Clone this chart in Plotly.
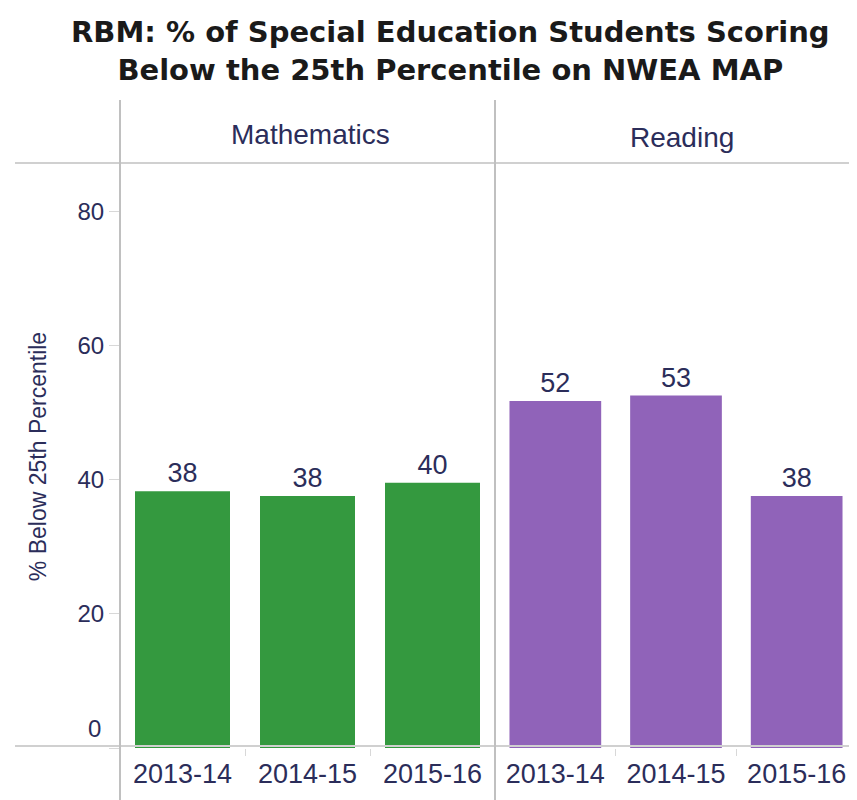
import plotly.graph_objects as go

years = ["2013-14", "2014-15", "2015-16"]
math_values = [38.3, 37.6, 39.6]
reading_values = [51.8, 52.6, 37.6]
panel_names = ["Mathematics", "Reading"]
y_ticks = [0, 20, 40, 60, 80]
title_text = "RBM: % of Special Education Students Scoring<br>Below the 25th Percentile on NWEA MAP"
y_title = "% Below 25th Percentile"

GREEN = "#34993f"
PURPLE = "#9063b9"
NAVY = "#2b2d5a"
GRID = "#d0d0d0"
FONT = "Liberation Sans, Arial, sans-serif"

# page body has an 8px margin, so the figure is drawn 8px right/down
OFF = 8
W, H = 857 - OFF, 800 - OFF
L, R, T, B = 120 - OFF, 0, 165 - OFF, 52
plot_w = W - L - R
plot_h = H - T - B


def px_x(x_ref):
    return (x_ref - OFF - L) / plot_w


def px_y(y_ref):
    return (H - B - (y_ref - OFF)) / plot_h


split = px_x(495)

fig = go.Figure()
fig.add_trace(go.Bar(
    x=years, y=math_values, xaxis="x", yaxis="y",
    marker=dict(color=GREEN, line=dict(width=0)),
    text=[f"{round(v)}" for v in math_values], textposition="outside",
    textfont=dict(size=27, color=NAVY, family=FONT), cliponaxis=False,
))
fig.add_trace(go.Bar(
    x=years, y=reading_values, xaxis="x2", yaxis="y",
    marker=dict(color=PURPLE, line=dict(width=0)),
    text=[f"{round(v)}" for v in reading_values], textposition="outside",
    textfont=dict(size=27, color=NAVY, family=FONT), cliponaxis=False,
))

xaxis_common = dict(
    type="category", range=[-0.5, 2.5], showgrid=False, zeroline=False,
    showline=False, ticks="outside", tickson="boundaries", ticklen=7,
    tickcolor="#d8d8d8", tickwidth=1, ticklabelstandoff=7,
    tickfont=dict(size=27, color=NAVY, family=FONT),
    anchor="y",
)

shapes = [
    dict(type="line", xref="paper", yref="paper",
         x0=px_x(15), x1=1.02, y0=px_y(163), y1=px_y(163),
         line=dict(color=GRID, width=2)),
    dict(type="line", xref="paper", yref="paper",
         x0=px_x(15), x1=1.02, y0=px_y(746), y1=px_y(746),
         line=dict(color=GRID, width=2)),
    dict(type="line", xref="paper", yref="paper",
         x0=px_x(120), x1=px_x(120), y0=px_y(800), y1=px_y(100),
         line=dict(color="#c0c0c0", width=2)),
    dict(type="line", xref="paper", yref="paper",
         x0=split, x1=split, y0=px_y(800), y1=px_y(100),
         line=dict(color="#c0c0c0", width=2)),
]

# the lowest tick label sits just above the baseline, as in the original
tick_text = ["" if v == y_ticks[0] else str(v) for v in y_ticks]

annotations = [
    dict(text=panel_names[0], xref="paper", yref="paper",
         x=px_x(310), y=px_y(134), showarrow=False,
         xanchor="center", yanchor="middle",
         font=dict(size=28, color=NAVY, family=FONT)),
    dict(text=panel_names[1], xref="paper", yref="paper",
         x=px_x(682), y=px_y(138), showarrow=False,
         xanchor="center", yanchor="middle",
         font=dict(size=28, color=NAVY, family=FONT)),
    dict(text=str(y_ticks[0]), xref="paper", yref="y",
         x=px_x(103), y=y_ticks[0], showarrow=False,
         xanchor="right", yanchor="bottom", yshift=4,
         font=dict(size=24, color=NAVY, family=FONT)),
    dict(text="<b>" + title_text.replace("<br>", "</b><br><b>") + "</b>",
         xref="paper", yref="paper",
         x=px_x(450), y=px_y(51), showarrow=False, yanchor="middle", xanchor="center",
         align="center",
         font=dict(size=29, color="#1a1a1a", family="DejaVu Sans, sans-serif")),
]

fig.update_layout(
    width=W, height=H,
    margin=dict(l=L, r=R, t=T, b=B),
    paper_bgcolor="white", plot_bgcolor="white",
    showlegend=False, bargap=0.24,
    xaxis=dict(domain=[0, split], **xaxis_common),
    xaxis2=dict(domain=[split, 1], **xaxis_common),
    yaxis=dict(range=[0, 87], tickvals=y_ticks, ticktext=tick_text,
               showgrid=False, zeroline=False,
               showline=False, ticks="outside", ticklen=10, tickcolor="#d8d8d8",
               tickfont=dict(size=24, color=NAVY, family=FONT),
               title=dict(text=y_title, standoff=24,
                          font=dict(size=23, color=NAVY, family=FONT))),
    shapes=shapes, annotations=annotations,
)

fig.write_html("out.html")
